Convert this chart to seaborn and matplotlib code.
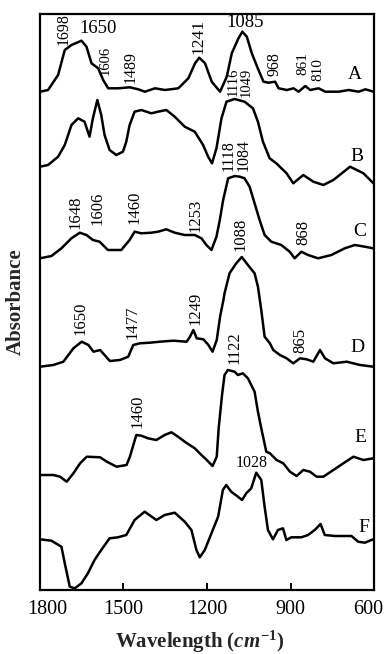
import numpy as np
import pandas as pd
import matplotlib
matplotlib.use("Agg")
import matplotlib.pyplot as plt
import matplotlib.transforms as mtransforms
import seaborn as sns

# ---------------- data (wavenumber in cm-1, relative absorbance a.u.) ----------------
A_wn = [1800, 1771, 1735, 1711, 1687, 1651, 1633, 1615, 1591, 1573, 1555, 1519, 1477, 1447, 1423,
        1387, 1351, 1303, 1267, 1243, 1228, 1207, 1183, 1153, 1129, 1111, 1087, 1073, 1057, 1039,
        1015, 997, 979, 955, 943, 913, 889, 871, 847, 829, 799, 775, 727, 691, 655, 631, 601]
A_val = [0, .017, .167, .417, .467, .51, .45, .284, .234, .117, .034, .034, .044, .024, 0,
         .034, .017, .034, .134, .284, .34, .284, .10, 0, .15, .384, .534, .60, .55, .384,
         .217, .10, .09, .10, .034, .017, .034, 0, .057, .017, .034, 0, 0, .017, 0, .024, 0]

B_wn = [1800, 1771, 1735, 1711, 1687, 1663, 1640, 1622, 1610, 1594, 1580, 1568, 1550, 1526, 1502,
        1490, 1478, 1460, 1436, 1400, 1376, 1346, 1316, 1280, 1244, 1214, 1196, 1182, 1166, 1148,
        1130, 1101, 1065, 1035, 1017, 999, 975, 951, 914, 890, 854, 818, 782, 746, 686, 638, 602]
B_val = [0, .017, .10, .217, .417, .484, .45, .30, .484, .667, .517, .317, .167, .117, .15,
         .25, .417, .55, .567, .534, .55, .567, .50, .40, .35, .217, .10, .034, .184, .484,
         .65, .677, .65, .584, .45, .25, .084, .034, -.066, -.166, -.083, -.15, -.183, -.133, 0,
         -.066, -.166]

C_wn = [1800, 1759, 1723, 1687, 1657, 1633, 1610, 1586, 1556, 1508, 1478, 1460, 1436, 1400, 1376,
        1346, 1316, 1280, 1244, 1220, 1202, 1184, 1166, 1154, 1142, 1124, 1100, 1082, 1065, 1047,
        1029, 1011, 993, 969, 933, 903, 885, 861, 837, 801, 753, 705, 669, 633, 603]
C_val = [0, .023, .10, .20, .256, .233, .183, .166, .083, .083, .183, .266, .25, .256, .266,
         .29, .256, .233, .233, .20, .133, .083, .216, .383, .583, .80, .823, .816, .80, .716,
         .55, .383, .233, .166, .133, .066, 0, .066, .033, 0, .033, .10, .133, .116, .10]

D_wn = [1800, 1752, 1716, 1680, 1650, 1626, 1608, 1584, 1549, 1513, 1483, 1465, 1441, 1405, 1369,
        1321, 1273, 1261, 1249, 1237, 1213, 1195, 1180, 1165, 1153, 1141, 1137, 1119, 1095, 1075,
        1053, 1029, 1017, 1005, 993, 974, 962, 938, 914, 890, 866, 842, 818, 794, 776, 746, 698,
        650, 602]
D_val = [0, .017, .05, .184, .25, .217, .15, .167, .057, .067, .10, .217, .234, .24, .25,
         .26, .25, .30, .367, .284, .274, .217, .15, .267, .50, .667, .734, .934, 1.034, 1.097,
         1.017, .934, .80, .567, .30, .234, .167, .117, .084, .034, .084, .074, .05, .167, .084,
         .034, .05, .017, 0]

E_wn = [1800, 1752, 1728, 1704, 1680, 1656, 1632, 1584, 1560, 1525, 1489, 1477, 1454, 1436, 1412,
        1382, 1352, 1328, 1304, 1280, 1244, 1220, 1201, 1180, 1165, 1158, 1146, 1137, 1125, 1101,
        1089, 1071, 1053, 1029, 1017, 1005, 987, 974, 950, 926, 902, 878, 854, 830, 806, 782,
        746, 710, 674, 638, 602]
E_val = [0, 0, -.017, -.067, .017, .117, .183, .177, .133, .083, .10, .183, .40, .393, .367,
         .35, .40, .427, .383, .333, .267, .20, .15, .09, .183, .47, .80, 1.00, 1.05, 1.033,
         1.00, 1.017, .967, .833, .633, .467, .233, .217, .15, .117, .033, -.01, .05, .033,
         -.017, -.017, .05, .117, .183, .15, .167]

F_wn = [1800, 1759, 1723, 1711, 1693, 1675, 1651, 1628, 1604, 1580, 1550, 1520, 1490, 1460, 1424,
        1382, 1352, 1316, 1280, 1256, 1238, 1226, 1208, 1184, 1160, 1143, 1131, 1113, 1089, 1074,
        1059, 1041, 1023, 1005, 993, 981, 963, 945, 927, 915, 897, 861, 837, 813, 792, 777,
        741, 681, 657, 633, 603]
F_val = [0, -.014, -.074, -.24, -.474, -.49, -.44, -.34, -.207, -.107, .01, .02, .043, .193, .276,
         .193, .243, .266, .176, .093, -.107, -.18, -.107, .06, .226, .493, .543, .476, .426,
         .393, .46, .51, .666, .593, .326, .093, 0, .093, .11, -.007, .02, .02, .043, .093,
         .153, .043, .033, .033, -.024, -.034, 0]

samples = ["A", "B", "C", "D", "E", "F"]
offsets = [4.983, 4.233, 3.317, 2.233, 1.15, 0.507]   # vertical stacking offsets
x_ticks = [1800, 1500, 1200, 900, 600]

# peak annotations: (text, wavenumber, y, rotation, fontsize)
peak_labels = [
    ("1698", 1714, 5.61, 90, 11.5), ("1650", 1592, 5.61, 0, 13.5), ("1606", 1566, 5.30, 90, 10.5),
    ("1489", 1473, 5.23, 90, 11.5), ("1241", 1229, 5.53, 90, 12.5), ("1085", 1063, 5.67, 0, 13.5),
    ("1116", 1107, 5.08, 90, 10.5), ("1049", 1060, 5.08, 90, 10.5), ("968", 956, 5.26, 90, 11.5),
    ("861", 857, 5.26, 90, 11), ("810", 803, 5.20, 90, 11),
    ("1118", 1123, 4.34, 90, 11.5), ("1084", 1070, 4.35, 90, 11.5),
    ("1648", 1671, 3.78, 90, 12), ("1606", 1592, 3.82, 90, 12), ("1460", 1462, 3.83, 90, 12),
    ("1253", 1243, 3.75, 90, 12), ("1088", 1078, 3.56, 90, 12), ("868", 855, 3.58, 90, 12),
    ("1650", 1653, 2.72, 90, 12), ("1477", 1469, 2.68, 90, 12), ("1249", 1243, 2.82, 90, 12),
    ("1122", 1103, 2.42, 90, 12), ("865", 866, 2.50, 90, 12),
    ("1460", 1448, 1.79, 90, 12), ("1028", 1038, 1.27, 0, 11.5),
]
letter_pos = [(668, 5.15), (661, 4.33), (650, 3.58), (661, 2.42), (650, 1.53), (636, 0.63)]

# ---------------- build long table ----------------
frames = []
for s, wn, val, off in zip(samples,
                           [A_wn, B_wn, C_wn, D_wn, E_wn, F_wn],
                           [A_val, B_val, C_val, D_val, E_val, F_val],
                           offsets):
    frames.append(pd.DataFrame({"wn": wn, "absorb": np.array(val) + off, "sample": s}))
df = pd.concat(frames, ignore_index=True)

# ---------------- plot ----------------
sns.set_theme(style="white")
plt.rcParams["font.family"] = ["Liberation Serif", "DejaVu Serif"]
plt.rcParams["mathtext.fontset"] = "custom"
plt.rcParams["mathtext.rm"] = "Liberation Serif:bold"
plt.rcParams["mathtext.it"] = "Liberation Serif:italic:bold"
plt.rcParams["mathtext.bf"] = "Liberation Serif:bold"

fig = plt.figure(figsize=(3.85, 6.54), dpi=100)
ax = fig.add_axes([40 / 385, 64 / 654, 334 / 385, 576 / 654])

sns.lineplot(data=df, x="wn", y="absorb", hue="sample", units="sample", estimator=None,
             palette=["black"] * 6, legend=False, linewidth=1.8, ax=ax, sort=True)

ax.set_xlim(1800, 600)
ax.set_ylim(0, 5.76)
ax.set_yticks([])
ax.set_xticks(x_ticks)
ax.set_xticklabels([str(t) for t in x_ticks])
ax.tick_params(axis="x", direction="in", length=5, width=1.4, bottom=True, top=False,
               pad=7, labelsize=14.5, colors="black")
for sp in ax.spines.values():
    sp.set_linewidth(1.6)
    sp.set_color("black")

# nudge end tick labels inward like the reference
labels = ax.get_xticklabels()
labels[0].set_transform(labels[0].get_transform() +
                        mtransforms.ScaledTranslation(7 / 100, 0, fig.dpi_scale_trans))
labels[-1].set_transform(labels[-1].get_transform() +
                         mtransforms.ScaledTranslation(-6 / 100, 0, fig.dpi_scale_trans))

ax.set_xlabel("")
fig.text(200 / 385, 1 - 642 / 654, r"Wavelength ($\mathit{cm}^{\mathbf{-1}}$)", fontsize=15,
         fontweight="bold", ha="center", va="center")
ax.set_ylabel("Absorbance", fontsize=15, fontweight="bold", labelpad=10)

for txt, x, y, rot, fs in peak_labels:
    ax.text(x, y, txt, rotation=rot, fontsize=fs, ha="center", va="center", color="black")
for s, (x, y) in zip(samples, letter_pos):
    ax.text(x, y, s, fontsize=14, ha="center", va="center", color="black")

fig.savefig("out.png", dpi=100)
